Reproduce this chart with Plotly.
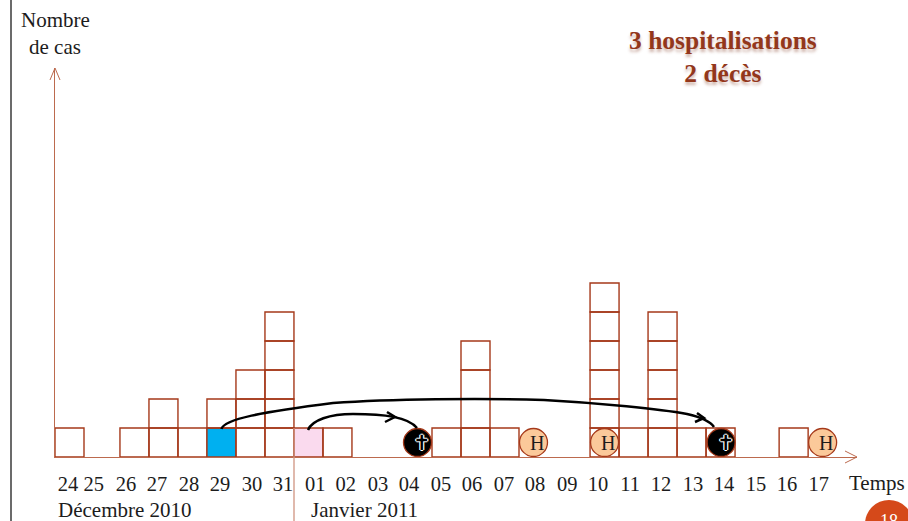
import plotly.graph_objects as go

W, H = 908, 521
X0, X1, Y0, Y1 = 55, 857, 457, 68
UNIT = 29

# ---- data ----
day_labels = ["24","25","26","27","28","29","30","31","01","02","03","04","05",
              "06","07","08","09","10","11","12","13","14","15","16","17"]
day_label_slots = [0.45,1.34,2.45,3.52,4.62,5.69,6.79,7.86,8.97,10.03,11.14,12.21,13.31,
                   14.38,15.48,16.55,17.66,18.72,19.83,20.90,22.00,23.07,24.17,25.24,26.34]
column_days   = ["24","26","27","28","29","30","31","01","02","05","06","07","10","11","12","13","14","16"]
column_slots  = [0.5,2.74,3.74,4.74,5.74,6.74,7.74,8.74,9.74,13.5,14.5,15.5,18.95,19.95,20.95,21.95,22.95,25.47]
column_counts = [1,1,2,1,2,3,5,1,1,1,4,1,6,1,5,1,1,1]
index_case_day = "29"
pink_case_day = "01"
hospital_slots = [16.5,18.95,26.47]
death_slots = [12.5,22.97]

RED = "#A5391A"
AXIS = "#BC6A4E"
FONT = "Liberation Serif"
TXT = "#1c1c1c"

def px(x): return x / W
def py(y): return 1 - y / H

bx, by, bc = [], [], []
for d, s, c in zip(column_days, column_slots, column_counts):
    for lvl in range(c):
        bx.append(s); by.append(lvl)
        if lvl == 0 and d == index_case_day:
            bc.append("#00B0F0")
        elif lvl == 0 and d == pink_case_day:
            bc.append("#FADAEE")
        else:
            bc.append("rgba(255,255,255,0)")

fig = go.Figure()
fig.add_trace(go.Bar(x=bx, y=[1]*len(bx), base=by, width=1, marker=dict(color=bc, line=dict(color=RED, width=1.4)), showlegend=False, hoverinfo="skip"))
fig.add_trace(go.Scatter(x=hospital_slots, y=[0.5]*len(hospital_slots), mode="markers",
                         marker=dict(size=28, color="#FBC99A", line=dict(color=RED, width=1.3)), showlegend=False, hoverinfo="skip"))
fig.add_trace(go.Scatter(x=death_slots, y=[0.5]*len(death_slots), mode="markers",
                         marker=dict(size=28, color="#000000", line=dict(color=RED, width=1.3)), showlegend=False, hoverinfo="skip"))

ann = []
for s in hospital_slots:
    ann.append(dict(x=s, y=0.5, xref="x", yref="y", text="H", showarrow=False, xshift=3,
                    font=dict(family=FONT, size=20, color=TXT)))
for s in death_slots:
    ann.append(dict(x=s, y=0.5, xref="x", yref="y", text="\u271D", showarrow=False, xshift=4.5,
                    font=dict(family="DejaVu Sans", size=21, color="#000000",
                              shadow="1.3px 0 0 #fff, -1.3px 0 0 #fff, 0 1.3px 0 #fff, 0 -1.3px 0 #fff")))

def label(x, y, text, size=21, anchor="center", color=TXT, **kw):
    ann.append(dict(x=px(x), y=py(y), xref="paper", yref="paper", text=text, showarrow=False,
                    xanchor=anchor, yanchor="middle", font=dict(family=FONT, size=size, color=color), **kw))

label(55, 20, "Nombre")
label(55, 47, "de cas")
label(847, 483, "Temps", anchor="left")
label(56, 510, "Décembre 2010", anchor="left")
label(309, 510, "Janvier 2011", anchor="left")
ann.append(dict(x=px(723), y=py(57), xref="paper", yref="paper", text="3 hospitalisations<br>2 décès",
                showarrow=False, align="center", xanchor="center", yanchor="middle",
                font=dict(family=FONT, size=25.5, color="#93371B", weight="bold",
                          shadow="0px 3px 3px rgba(150,90,70,0.45)")))
label(889, 521, "18", size=18, color="#FFFFFF")

def pth(points):
    out = []
    for cmd, *pts in points:
        if cmd == "C":
            out.append("C " + " ".join(f"{px(a):.5f},{py(b):.5f}" for a, b in pts))
        else:
            for a, b in pts:
                out.append(f"{cmd} {px(a):.5f},{py(b):.5f}")
    return " ".join(out)

def line(x0, y0, x1, y1, color, width):
    return dict(type="line", xref="paper", yref="paper", x0=px(x0), x1=px(x1), y0=py(y0), y1=py(y1),
                line=dict(color=color, width=width), layer="above")

def path(pts, color, width):
    return dict(type="path", xref="paper", yref="paper", path=pth(pts), line=dict(color=color, width=width), layer="above")

shapes = [
    line(11, 0, 11, 521, "#6b6b6b", 2),
    line(294, 428, 294, 521, "#CF9480", 1.3),
    path([("M", (X1-12, 451)), ("L", (X1, 457), (X1-12, 463))], AXIS, 1),
    path([("M", (50, 80)), ("L", (55, 68), (60, 80))], AXIS, 1),
    path([("M", (221.5, 429)), ("C", (224, 419), (262, 412), (333, 403)),
          ("C", (390, 399), (480, 398), (544, 400)),
          ("C", (600, 403), (660, 409), (687, 414)),
          ("C", (700, 417), (710, 421), (714, 427))], "#000000", 2.5),
    path([("M", (697, 413)), ("L", (704, 418), (695, 422))], "#000000", 2.5),
    path([("M", (308, 430)), ("C", (312, 420), (330, 414), (353, 414)),
          ("C", (385, 414), (408, 417), (417, 428))], "#000000", 2.5),
    path([("M", (387, 412)), ("L", (395, 417), (385, 422))], "#000000", 2.5),
    dict(type="circle", xref="paper", yref="paper", x0=px(865), x1=px(913), y0=py(500), y1=py(548),
         fillcolor="#D5491A", line=dict(width=0), layer="above"),
]

fig.update_layout(
    width=W, height=H, autosize=False, margin=dict(l=0, r=0, t=0, b=0),
    paper_bgcolor="white", plot_bgcolor="white", barmode="overlay", showlegend=False,
    xaxis=dict(domain=[px(X0), px(X1)], range=[0, (X1-X0)/UNIT], tickmode="array",
               tickvals=day_label_slots, ticktext=day_labels, ticks="", showgrid=False, zeroline=False,
               showline=True, linecolor=AXIS, linewidth=1.3, ticklabelstandoff=8,
               tickfont=dict(family=FONT, size=20.5, color=TXT), anchor="y"),
    yaxis=dict(domain=[py(Y0), py(Y1)], range=[0, (Y0-Y1)/UNIT], showticklabels=False, ticks="",
               showgrid=False, zeroline=False, showline=True, linecolor=AXIS, linewidth=1.3, anchor="x"),
    annotations=ann, shapes=shapes,
)
fig.write_html("out.html", config={"displayModeBar": False},
               post_script="document.body.style.margin='0';document.documentElement.style.overflow='hidden';")
